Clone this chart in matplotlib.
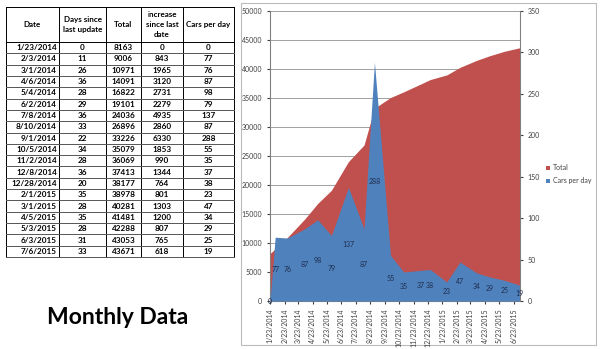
import numpy as np
import pandas as pd
import matplotlib
matplotlib.use("Agg")
import matplotlib.pyplot as plt
from matplotlib.patches import Rectangle

# data copied from the table
dates = ["1/23/2014", "2/3/2014", "3/1/2014", "4/6/2014", "5/4/2014", "6/2/2014",
         "7/8/2014", "8/10/2014", "9/1/2014", "10/5/2014", "11/2/2014", "12/8/2014",
         "12/28/2014", "2/1/2015", "3/1/2015", "4/5/2015", "5/3/2015", "6/3/2015",
         "7/6/2015"]
days = [0, 11, 26, 36, 28, 29, 36, 33, 22, 34, 28, 36, 20, 35, 28, 35, 28, 31, 33]
total = [8163, 9006, 10971, 14091, 16822, 19101, 24036, 26896, 33226, 35079,
         36069, 37413, 38177, 38978, 40281, 41481, 42288, 43053, 43671]
increase = [0, 843, 1965, 3120, 2731, 2279, 4935, 2860, 6330, 1853, 990, 1344,
            764, 801, 1303, 1200, 807, 765, 618]
cars_per_day = [0, 77, 76, 87, 98, 79, 137, 87, 288, 55, 35, 37, 38, 23, 47, 34,
                29, 25, 19]

headers = ["Date", "Days since\nlast update", "Total", "increase\nsince last\ndate",
           "Cars per day"]

W, H = 600, 349
red = "#C0504D"
blue = "#4F81BD"
font = "Lato"

fig = plt.figure(figsize=(6, 3.49), dpi=100)

# background axes in pixel coords for table and title
bg = fig.add_axes([0, 0, 1, 1])
bg.set_xlim(0, W)
bg.set_ylim(H, 0)
bg.axis("off")

col_edges = [6, 59, 106, 141, 183, 234]
top, head_bot = 7, 42
row_h = (257 - head_bot) / len(dates)
bottom = head_bot + row_h * len(dates)

for x in col_edges:
    bg.plot([x, x], [top, bottom], color="black", lw=0.7)
bg.plot([col_edges[0], col_edges[-1]], [top, top], color="black", lw=0.7)
bg.plot([col_edges[0], col_edges[-1]], [head_bot, head_bot], color="black", lw=0.7)
for i in range(1, len(dates) + 1):
    y = head_bot + i * row_h
    bg.plot([col_edges[0], col_edges[-1]], [y, y], color="#555555", lw=0.7)

centers = [(col_edges[i] + col_edges[i + 1]) / 2 for i in range(5)]
for c, h in zip(centers, headers):
    bg.text(c, (top + head_bot) / 2, h, ha="center", va="center", fontsize=5.8,
            fontweight="bold", family=font, linespacing=1.5)

for i in range(len(dates)):
    y = head_bot + (i + 0.5) * row_h
    bg.text(col_edges[1] - 2, y, dates[i], ha="right", va="center", fontsize=5.9,
            fontweight="bold", family=font)
    for c, v in zip(centers[1:], [days[i], total[i], increase[i], cars_per_day[i]]):
        bg.text(c, y, str(v), ha="center", va="center", fontsize=5.9,
                fontweight="bold", family=font)

bg.text(118, 318, "Monthly Data", ha="center", va="center", fontsize=16.5,
        fontweight="bold", family=font)

# chart border
bg.add_patch(Rectangle((241, 3), 355, 342, fill=False, edgecolor="#BBBBBB", lw=0.8))

# chart
x = pd.to_datetime(dates, format="%m/%d/%Y")
ax = fig.add_axes([270 / W, 1 - 301 / H, 250 / W, 290 / H])
ax.fill_between(x, total, 0, color=red, lw=0, label="Total")
ax.set_ylim(0, 50000)
ax.set_yticks(np.arange(0, 50001, 5000))
ax.grid(axis="y", color="#A0A0A0", lw=0.7)
ax.set_axisbelow(True)
ax.set_xlim(x[0], x[-1])
ticks = pd.date_range("2014-01-01", "2015-06-01", freq="MS") + pd.Timedelta(days=22)
ax.set_xticks(ticks)
ax.set_xticklabels([f"{t.month}/{t.day}/{t.year}" for t in ticks], rotation=90,
                   fontsize=5, family=font)
ax.tick_params(axis="y", labelsize=5, length=2, colors="#404040")
ax.tick_params(axis="x", length=2, colors="#404040")
for s in ["top", "right"]:
    ax.spines[s].set_visible(False)
for s in ["left", "bottom"]:
    ax.spines[s].set_color("#808080")
for lab in ax.get_yticklabels():
    lab.set_family(font)

ax2 = ax.twinx()
ax2.fill_between(x, cars_per_day, 0, color=blue, lw=0, label="Cars per day")
ax2.set_ylim(0, 350)
ax2.set_yticks(np.arange(0, 351, 50))
ax2.tick_params(axis="y", labelsize=5, length=2, colors="#404040")
for lab in ax2.get_yticklabels():
    lab.set_family(font)
for s in ["top", "left", "bottom"]:
    ax2.spines[s].set_visible(False)
ax2.spines["right"].set_color("#808080")
for xi, v in zip(x[1:], cars_per_day[1:]):
    ax2.text(xi, v / 2, str(v), ha="center", va="center", fontsize=5,
             color="#1F2D4D", family=font)
ax2.text(x[0], 0, "0", ha="center", va="center", fontsize=5, color="#1F2D4D",
         family=font)

# legend
bg.add_patch(Rectangle((546, 166), 4, 4, color=red, lw=0))
bg.text(553, 168, "Total", va="center", fontsize=5, family=font, color="#404040")
bg.add_patch(Rectangle((546, 179), 4, 4, color=blue, lw=0))
bg.text(553, 181, "Cars per day", va="center", fontsize=5, family=font, color="#404040")

fig.savefig("out.png", dpi=100)
